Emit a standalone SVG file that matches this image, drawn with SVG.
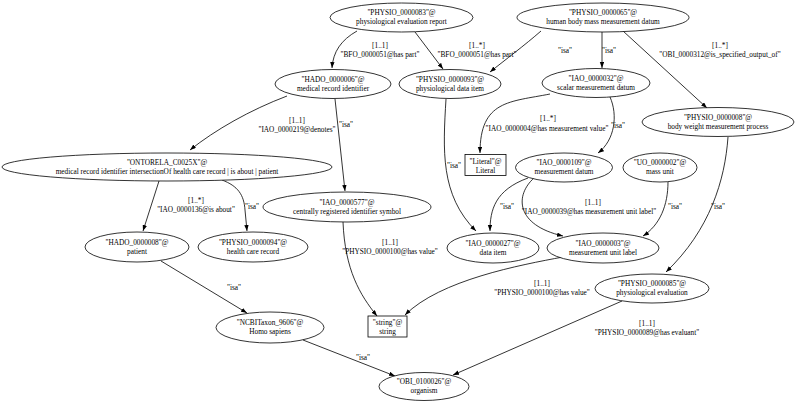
<svg xmlns="http://www.w3.org/2000/svg" width="800" height="403" viewBox="0 0 800 403">
<style>
text{font-family:"Liberation Serif","Times New Roman",serif;font-size:7.3px;text-anchor:middle;fill:#000}
.n ellipse,.n rect{fill:#fff;stroke:#000;stroke-width:0.8}
.e path{fill:none;stroke:#000;stroke-width:0.8;marker-end:url(#a)}
</style>
<defs>
<marker id="a" markerWidth="7" markerHeight="5" refX="6" refY="2.2" orient="auto" markerUnits="userSpaceOnUse">
<path d="M0,0 L6,2.2 L0,4.4 Z" fill="#000"/>
</marker>
</defs>
<rect width="800" height="403" fill="#fff"/>
<g id="edges" class="e">
<path d="M357,31 C341,40 333,52 332,68"/>
<path d="M415,32 L443,69"/>
<path d="M541,31 C525,45 505,60 490,72"/>
<path d="M602,32 L602,68"/>
<path d="M623,31 L707,108"/>
<path d="M287,96 C250,110 215,130 190,150"/>
<path d="M335,99 L345,191"/>
<path d="M446,99 C443,150 440,195 476,231"/>
<path d="M550,94 C510,102 480,100 480,153"/>
<path d="M610,97 C618,115 615,140 598,153"/>
<path d="M728,137 C725,180 710,230 666,272"/>
<path d="M159,181 L143,231"/>
<path d="M222,180 C238,186 244,195 245,210 L247,231"/>
<path d="M343,222 C345,270 360,295 377,316"/>
<path d="M528,178 C495,190 490,210 490,231"/>
<path d="M534,178 C515,195 515,225 563,236"/>
<path d="M668,182 C668,205 660,225 643,236"/>
<path d="M563,257 C520,265 440,280 405,315"/>
<path d="M161,261 L247,313"/>
<path d="M303,340 L395,376"/>
<path d="M622,301 L453,375"/>
</g>
<g id="edge-labels">
<text x="380" y="47.5">[1..1]</text><text x="380" y="56.5">"BFO_0000051@has part"</text>
<text x="477" y="47.5">[1..*]</text><text x="477" y="56.5">"BFO_0000051@has part"</text>
<text x="565" y="52.5">"isa"</text>
<text x="609" y="52.5">"isa"</text>
<text x="720" y="47.5">[1..*]</text><text x="720" y="56.5">"OBI_0000312@is_specified_output_of"</text>
<text x="297" y="122.5">[1..1]</text><text x="297" y="131.5">"IAO_0000219@denotes"</text>
<text x="346" y="126.5">"isa"</text>
<text x="454" y="167.5">"isa"</text>
<text x="548" y="120.5">[1..*]</text><text x="547" y="130.5">"IAO_0000004@has measurement value"</text>
<text x="618" y="127.5">"isa"</text>
<text x="718" y="208.5">"isa"</text>
<text x="196" y="203">[1..*]</text><text x="196" y="212">"IAO_0000136@is about"</text>
<text x="252" y="208.5">"isa"</text>
<text x="390" y="244.5">[1..1]</text><text x="390" y="253.5">"PHYSIO_0000100@has value"</text>
<text x="507" y="208.5">"isa"</text>
<text x="593" y="204.5">[1..1]</text><text x="589" y="213.5">"IAO_0000039@has measurement unit label"</text>
<text x="675" y="208.5">"isa"</text>
<text x="542" y="285.5">[1..1]</text><text x="542" y="294.5">"PHYSIO_0000100@has value"</text>
<text x="234" y="289.5">"isa"</text>
<text x="363" y="359.5">"isa"</text>
<text x="647" y="325.5">[1..1]</text><text x="647" y="334.5">"PHYSIO_0000089@has evaluant"</text>
</g>
<g id="PHYSIO_0000083" class="n"><ellipse cx="401.5" cy="17.5" rx="71.5" ry="14.5"/><text x="401.5" y="15">"PHYSIO_0000083"@</text><text x="401.5" y="24">physiological evaluation report</text></g>
<g id="PHYSIO_0000065" class="n"><ellipse cx="603" cy="17.5" rx="86" ry="14.5"/><text x="603" y="15">"PHYSIO_0000065"@</text><text x="603" y="24">human body mass measurement datum</text></g>
<g id="HADO_0000006" class="n"><ellipse cx="333" cy="84" rx="58" ry="14.5"/><text x="333" y="81.5">"HADO_0000006"@</text><text x="333" y="90.5">medical record identifier</text></g>
<g id="PHYSIO_0000093" class="n"><ellipse cx="450" cy="84" rx="51" ry="14.5"/><text x="450" y="81.5">"PHYSIO_0000093"@</text><text x="450" y="90.5">physiological data item</text></g>
<g id="IAO_0000032" class="n"><ellipse cx="596" cy="83" rx="54" ry="14.5"/><text x="596" y="80.5">"IAO_0000032"@</text><text x="596" y="89.5">scalar measurement datum</text></g>
<g id="PHYSIO_0000008" class="n"><ellipse cx="718" cy="122" rx="76" ry="14.5"/><text x="718" y="119.5">"PHYSIO_0000008"@</text><text x="718" y="128.5">body weight measurement process</text></g>
<g id="ONTORELA_C0025X" class="n"><ellipse cx="167" cy="167" rx="165" ry="14"/><text x="167" y="164.5">"ONTORELA_C0025X"@</text><text x="167" y="173.5">medical record identifier intersectionOf health care record | is about | patient</text></g>
<g id="IAO_0000577" class="n"><ellipse cx="347" cy="207" rx="84" ry="15"/><text x="347" y="204.5">"IAO_0000577"@</text><text x="347" y="213.5">centrally registered identifier symbol</text></g>
<g id="Literal" class="n"><rect x="465" y="154.5" width="41" height="21"/><text x="485.5" y="163.5">"Literal"@</text><text x="485.5" y="172.5">Literal</text></g>
<g id="IAO_0000109" class="n"><ellipse cx="564" cy="167.5" rx="48.5" ry="14.5"/><text x="564" y="165">"IAO_0000109"@</text><text x="564" y="174">measurement datum</text></g>
<g id="UO_0000002" class="n"><ellipse cx="660" cy="167.5" rx="37" ry="14.5"/><text x="660" y="165">"UO_0000002"@</text><text x="660" y="174">mass unit</text></g>
<g id="HADO_0000008" class="n"><ellipse cx="137" cy="247" rx="52" ry="15"/><text x="137" y="244.5">"HADO_0000008"@</text><text x="137" y="253.5">patient</text></g>
<g id="PHYSIO_0000094" class="n"><ellipse cx="253" cy="247" rx="55" ry="15"/><text x="253" y="244.5">"PHYSIO_0000094"@</text><text x="253" y="253.5">health care record</text></g>
<g id="IAO_0000027" class="n"><ellipse cx="493" cy="248" rx="46" ry="15"/><text x="493" y="245.5">"IAO_0000027"@</text><text x="493" y="254.5">data item</text></g>
<g id="IAO_0000003" class="n"><ellipse cx="603" cy="248" rx="56" ry="15"/><text x="603" y="245.5">"IAO_0000003"@</text><text x="603" y="254.5">measurement unit label</text></g>
<g id="PHYSIO_0000085" class="n"><ellipse cx="652" cy="288.5" rx="57" ry="14.5"/><text x="652" y="286">"PHYSIO_0000085"@</text><text x="652" y="295">physiological evaluation</text></g>
<g id="string" class="n"><rect x="368" y="316" width="39" height="21"/><text x="387.5" y="325">"string"@</text><text x="387.5" y="334">string</text></g>
<g id="NCBITaxon_9606" class="n"><ellipse cx="270" cy="327.5" rx="54" ry="15.5"/><text x="270" y="325">"NCBITaxon_9606"@</text><text x="270" y="334">Homo sapiens</text></g>
<g id="OBI_0100026" class="n"><ellipse cx="424" cy="386.5" rx="45" ry="14"/><text x="424" y="384">"OBI_0100026"@</text><text x="424" y="393">organism</text></g>
</svg>
